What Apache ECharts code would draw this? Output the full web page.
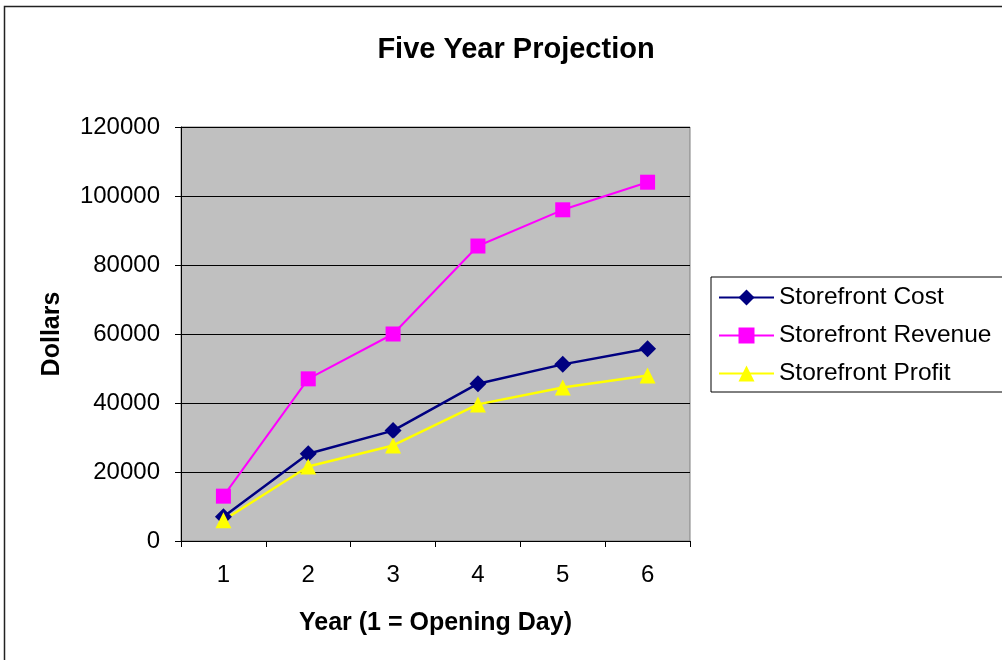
<!DOCTYPE html>
<html>
<head>
<meta charset="utf-8">
<script src="https://cdn.jsdelivr.net/npm/echarts@6/dist/echarts.min.js"></script>
<style>
  html, body { margin: 0; padding: 0; background: #fff; }
  #chart { width: 1002px; height: 660px; }
</style>
</head>
<body>
<div id="chart"></div>
<script>
// Five-year storefront projection, in dollars
const years = ['1', '2', '3', '4', '5', '6'];
const storefrontCost = [7000, 25300, 32000, 45600, 51200, 55700];
const storefrontRevenue = [13000, 47000, 60000, 85500, 96000, 104000];
const storefrontProfit = [6000, 21600, 27700, 39600, 44500, 48000];

const FONT = '"Liberation Sans", Arial, sans-serif';

const chart = echarts.init(document.getElementById('chart'), null, { renderer: 'canvas' });

chart.setOption({
  animation: false,
  backgroundColor: '#ffffff',
  textStyle: { fontFamily: FONT },
  title: {
    text: 'Five Year Projection',
    left: 511,
    textAlign: 'center',
    top: 30,
    textStyle: { fontFamily: FONT, fontSize: 29, fontWeight: 'bold', color: '#000' }
  },
  graphic: [
    {
      type: 'rect',
      shape: { x: 4.5, y: 6.5, width: 1010, height: 670 },
      style: { fill: 'none', stroke: '#222', lineWidth: 1.5 },
      silent: true
    }
  ],
  legend: {
    orient: 'vertical',
    left: 711,
    top: 277,
    padding: [8, 30, 6, 7],
    itemGap: 13,
    itemWidth: 55,
    itemHeight: 20,
    borderColor: '#000',
    borderWidth: 1,
    backgroundColor: '#fff',
    textStyle: { fontFamily: FONT, fontSize: 24.5, color: '#000' },
    data: ['Storefront Cost', 'Storefront Revenue', 'Storefront Profit']
  },
  grid: {
    left: 181,
    right: 312,
    top: 127,
    bottom: 119,
    show: true,
    backgroundColor: '#C0C0C0',
    borderColor: '#808080',
    borderWidth: 1
  },
  xAxis: {
    type: 'category',
    data: years,
    boundaryGap: true,
    name: 'Year (1 = Opening Day)',
    nameLocation: 'middle',
    nameGap: 70,
    nameTextStyle: { fontFamily: FONT, fontSize: 25, fontWeight: 'bold', color: '#000' },
    axisLine: { lineStyle: { color: '#000', width: 1 } },
    axisTick: { show: true, inside: false, length: 6, alignWithLabel: false, lineStyle: { color: '#000' } },
    axisLabel: { fontFamily: FONT, fontSize: 24, color: '#000', margin: 22 },
    splitLine: { show: false }
  },
  yAxis: {
    type: 'value',
    min: 0,
    max: 120000,
    interval: 20000,
    name: 'Dollars',
    nameLocation: 'middle',
    nameGap: 116,
    nameRotate: 90,
    nameTextStyle: { fontFamily: FONT, fontSize: 25, fontWeight: 'bold', color: '#000' },
    axisLine: { show: true, lineStyle: { color: '#000', width: 1 } },
    axisTick: { show: true, inside: false, length: 6, lineStyle: { color: '#000' } },
    axisLabel: {
      fontFamily: FONT, fontSize: 24, color: '#000', margin: 21,
      formatter: function (v) { return String(v); }
    },
    splitLine: { show: true, lineStyle: { color: '#000', width: 1 } }
  },
  series: [
    {
      name: 'Storefront Cost',
      type: 'line',
      data: storefrontCost,
      symbol: 'diamond',
      symbolSize: 17,
      lineStyle: { color: '#000080', width: 2.5 },
      itemStyle: { color: '#000080' }
    },
    {
      name: 'Storefront Revenue',
      type: 'line',
      data: storefrontRevenue,
      symbol: 'rect',
      symbolSize: 15,
      lineStyle: { color: '#FF00FF', width: 2 },
      itemStyle: { color: '#FF00FF' }
    },
    {
      name: 'Storefront Profit',
      type: 'line',
      data: storefrontProfit,
      symbol: 'triangle',
      symbolSize: 16,
      lineStyle: { color: '#FFFF00', width: 2.5 },
      itemStyle: { color: '#FFFF00' }
    }
  ]
});
</script>
</body>
</html>
